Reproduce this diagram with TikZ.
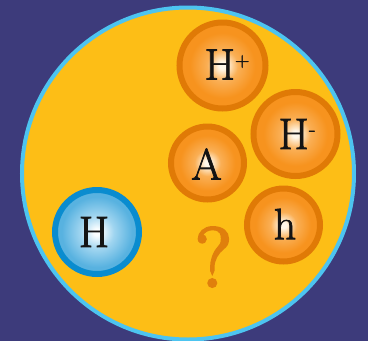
\documentclass[tikz,border=0pt]{standalone}
\usepackage{fontspec}
\newfontfamily\lblfont{Latin Modern Roman}[FakeBold=1.5]
\newfontfamily\qfont{Latin Modern Roman}[FakeBold=3.5]
\definecolor{bgcol}{HTML}{3D3B7B}
\definecolor{yel}{HTML}{FDBE16}
\definecolor{rimblue}{HTML}{4DC4F0}
\definecolor{oring}{HTML}{E07A06}
\definecolor{ofill}{HTML}{F7931E}
\definecolor{omid}{HTML}{FAAF55}
\definecolor{ocen}{HTML}{FFF8EA}
\definecolor{bring}{HTML}{0A8CCF}
\definecolor{bfill}{HTML}{58B2E0}
\definecolor{bmid}{HTML}{A0D5F0}
\definecolor{bcen}{HTML}{FBFEFF}
\definecolor{qcol}{HTML}{E07F0C}
\definecolor{txt}{HTML}{141414}
\pgfdeclareradialshading{oball}{\pgfpoint{0bp}{0bp}}{color(0bp)=(ocen); color(2bp)=(ocen); color(9bp)=(omid); color(19bp)=(ofill); color(50bp)=(ofill)}
\pgfdeclareradialshading{bball}{\pgfpoint{0bp}{0bp}}{color(0bp)=(bcen); color(2bp)=(bcen); color(10bp)=(bmid); color(21bp)=(bfill); color(50bp)=(bfill)}
\tikzset{
  oparticle/.style={circle, shading=oball, draw=oring, line width=6pt},
  bparticle/.style={circle, shading=bball, draw=bring, line width=6pt},
  lbl/.style={font=\lblfont\fontsize{44}{44}\selectfont, text=txt, inner sep=0pt},
}
\newcommand{\supplus}{\raisebox{13pt}{\fontsize{20}{20}\selectfont +}}
\newcommand{\supminus}{\raisebox{13pt}{\fontsize{22}{22}\selectfont -}}
\begin{document}
\begin{tikzpicture}[x=1pt,y=-1pt]
\useasboundingbox (0,0) rectangle (368,341);
\fill[bgcol] (0,0) rectangle (368,341);
\draw[fill=yel, draw=rimblue, line width=4pt] (188,173.5) circle (166);
\shade[oparticle] (222.5,65.5) circle (43);
\shade[oparticle] (295.5,134) circle (42);
\shade[oparticle] (207.5,163) circle (36.5);
\shade[oparticle] (283.5,225) circle (36.5);
\shade[bparticle] (97,232) circle (42);
\node[lbl] (hp) at (227,64.5) {H\supplus};
\node[lbl] (hm) at (297,134) {H\supminus};
\node[lbl] (a) at (206.5,164) {A};
\node[lbl] (h) at (285,224) {h};
\node[lbl] (H) at (94,232) {H};
\node[font=\qfont\fontsize{84}{84}\selectfont, text=qcol, inner sep=0pt] (q) at (213.5,257) {?};
\end{tikzpicture}
\end{document}
